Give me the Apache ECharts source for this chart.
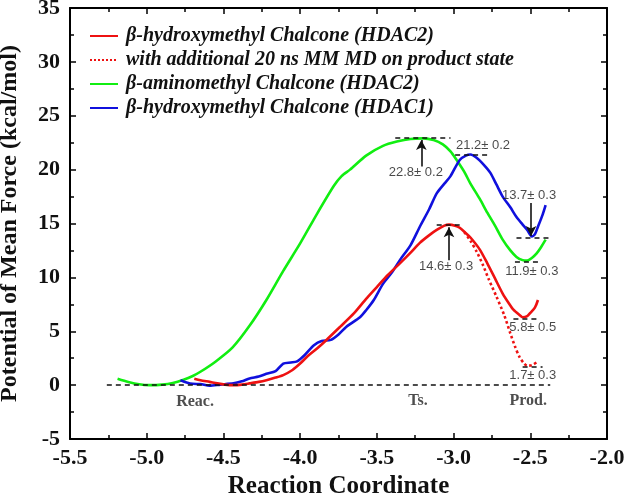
<!DOCTYPE html>
<html>
<head>
<meta charset="utf-8">
<script src="https://cdn.jsdelivr.net/npm/echarts@6/dist/echarts.min.js"></script>
<style>
html,body{margin:0;padding:0;background:#fff;}
#c{width:625px;height:494px;}
</style>
</head>
<body>
<div id="c"></div>
<script>
// ---- data ----
const seriesNames = [
  'β-hydroxymethyl Chalcone (HDAC2)',
  'with additional 20 ns MM MD on product state',
  'β-aminomethyl Chalcone (HDAC2)',
  'β-hydroxymethyl Chalcone (HDAC1)'
];

const greenX = [-5.19,-5.12,-5.05,-4.98,-4.90,-4.83,-4.76,-4.70,-4.65,-4.55,-4.44,-4.33,-4.22,-4.11,-4.00,-3.89,-3.78,-3.73,-3.675,-3.57,-3.46,-3.37,-3.28,-3.20,-3.13,-3.07,-3.02,-2.98,-2.93,-2.89,-2.83,-2.78,-2.73,-2.68,-2.63,-2.59,-2.55,-2.52,-2.49,-2.46,-2.43,-2.40];
const greenY = [0.6,0.3,0.08,0.0,0.05,0.2,0.5,0.85,1.24,2.2,3.5,5.5,7.9,10.6,13.15,15.9,18.5,19.4,20.0,21.3,22.2,22.6,22.85,22.9,22.75,22.35,21.7,20.9,19.8,18.7,17.3,16.0,14.8,13.5,12.5,11.9,11.6,11.55,11.8,12.2,12.8,13.5];

const blueX = [-4.78,-4.74,-4.70,-4.65,-4.59,-4.52,-4.435,-4.38,-4.33,-4.27,-4.22,-4.16,-4.11,-4.06,-4.02,-3.97,-3.91,-3.86,-3.80,-3.75,-3.70,-3.61,-3.57,-3.52,-3.46,-3.40,-3.35,-3.28,-3.22,-3.16,-3.11,-3.06,-3.02,-2.96,-2.92,-2.89,-2.85,-2.80,-2.76,-2.72,-2.68,-2.63,-2.59,-2.55,-2.52,-2.49,-2.47,-2.45,-2.42,-2.40];
const blueY = [0.46,0.25,0.12,0.1,-0.05,0.05,0.16,0.35,0.62,0.8,1.05,1.3,2.0,2.1,2.2,2.8,3.7,4.1,4.2,4.7,5.4,6.3,6.95,7.9,9.4,10.5,11.6,13.0,14.7,16.3,17.8,18.7,19.4,20.9,21.3,21.4,21.1,20.4,19.7,18.6,17.5,16.5,15.6,14.9,14.4,13.8,14.0,14.7,15.8,16.7];

const redX = [-4.69,-4.65,-4.59,-4.54,-4.49,-4.435,-4.38,-4.33,-4.27,-4.22,-4.16,-4.11,-4.05,-4.00,-3.95,-3.89,-3.83,-3.74,-3.65,-3.57,-3.50,-3.43,-3.35,-3.28,-3.22,-3.16,-3.11,-3.06,-3.03,-2.99,-2.96,-2.92,-2.89,-2.83,-2.78,-2.73,-2.68,-2.64,-2.61,-2.57,-2.55,-2.52,-2.50,-2.47,-2.45];
const redY = [0.6,0.46,0.3,0.16,0.05,0.0,0.05,0.16,0.3,0.46,0.7,0.93,1.4,2.0,2.7,3.4,4.17,5.4,6.65,8.0,9.1,10.2,11.3,12.3,13.2,13.9,14.4,14.8,14.9,14.8,14.6,14.1,13.7,12.6,11.3,9.9,8.5,7.6,7.0,6.5,6.3,6.4,6.7,7.2,7.9];

const dotX = [-2.93,-2.89,-2.85,-2.81,-2.77,-2.72,-2.67,-2.63,-2.60,-2.57,-2.54,-2.52,-2.49,-2.46];
const dotY = [14.2,13.4,12.4,11.2,9.8,8.2,6.5,4.8,3.6,2.6,2.0,1.8,1.85,2.1];

// dashed reference levels: [xStart, xEnd, y]
const refLevels = [
  [-5.26,-2.37,0],
  [-3.38,-3.02,23.0],
  [-2.99,-2.78,21.35],
  [-3.11,-2.94,14.9],
  [-2.59,-2.36,13.7],
  [-2.60,-2.44,11.45],
  [-2.61,-2.46,6.2],
  [-2.55,-2.42,1.7]
];
// arrows: [x, yFrom, yTo]
const arrows = [
  [-3.21,20.3,22.75],
  [-3.03,11.6,14.65],
  [-2.495,16.9,13.85]
];
// value labels: [text, x, y]
const valueLabels = [
  ['22.8± 0.2',-3.246,19.73],
  ['21.2± 0.2',-2.808,22.2],
  ['14.6± 0.3',-3.049,11.0],
  ['13.7± 0.3',-2.508,17.56],
  ['11.9± 0.3',-2.490,10.53],
  ['5.8± 0.5',-2.484,5.36],
  ['1.7± 0.3',-2.484,0.93]
];
// state labels: [text, x, y]
const stateLabels = [
  ['Reac.',-4.685,-1.58],
  ['Ts.',-3.232,-1.45],
  ['Prod.',-2.514,-1.45]
];
const xTicks = {min:-5.5,max:-2.0,interval:0.5};
const yTicks = {min:-5,max:35,interval:5};

// ---- chart ----
const zip = (xs, ys) => xs.map((x,i)=>[x, ys[i]]);
const serif = 'Liberation Serif, Times New Roman, serif';
const sans = 'Liberation Sans, Arial, sans-serif';

const chart = echarts.init(document.getElementById('c'), null, {renderer:'canvas'});

const axisCommon = {
  axisLine:{show:true, onZero:false, lineStyle:{color:'#000', width:2}},
  axisTick:{show:true, inside:true, length:6, lineStyle:{color:'#000', width:1.5}},
  minorTick:{show:true, splitNumber:2, length:4, lineStyle:{color:'#000', width:1.5}},
  splitLine:{show:false}
};

const option = {
  backgroundColor:'#fff',
  animation:false,
  grid:{left:70, right:18, top:8, bottom:55, containLabel:false, outerBoundsMode:'none'},
  legend:{
    data: seriesNames,
    orient:'vertical',
    left:84, top:21,
    itemWidth:28, itemHeight:14, itemGap:4,
    itemStyle:{opacity:0},
    textStyle:{fontFamily:serif, fontWeight:'bold', fontStyle:'italic', fontSize:20, color:'#111', padding:[0,0,0,3]}
  },
  xAxis:[
    Object.assign({}, axisCommon, {
      type:'value', position:'bottom', min:xTicks.min, max:xTicks.max, interval:xTicks.interval,
      name:'Reaction Coordinate', nameLocation:'middle', nameGap:25,
      nameTextStyle:{fontFamily:serif, fontWeight:'bold', fontSize:25, color:'#111'},
      axisLabel:{fontFamily:serif, fontWeight:'bold', fontSize:22, color:'#111', margin:8,
        formatter:v=>v.toFixed(1)}
    }),
    Object.assign({}, axisCommon, {
      type:'value', position:'top', min:xTicks.min, max:xTicks.max, interval:xTicks.interval,
      axisLabel:{show:false}
    })
  ],
  yAxis:[
    Object.assign({}, axisCommon, {
      type:'value', position:'left', min:yTicks.min, max:yTicks.max, interval:yTicks.interval,
      name:'Potential of Mean Force (kcal/mol)', nameLocation:'middle', nameGap:48, nameRotate:90,
      nameTextStyle:{fontFamily:serif, fontWeight:'bold', fontSize:24, color:'#111'},
      axisLabel:{fontFamily:serif, fontWeight:'bold', fontSize:22, color:'#111', margin:10,
        formatter:v=>String(v)}
    }),
    Object.assign({}, axisCommon, {
      type:'value', position:'right', min:yTicks.min, max:yTicks.max, interval:yTicks.interval,
      axisLabel:{show:false}
    })
  ],
  series:[
    {
      name:seriesNames[0], type:'line', data:zip(redX, redY), showSymbol:false, symbol:'none',
      smooth:0.25, lineStyle:{color:'#ee1111', width:2.6}, itemStyle:{color:'#ee1111'}, z:4
    },
    {
      name:seriesNames[1], type:'line', data:zip(dotX, dotY), showSymbol:false, symbol:'none',
      smooth:0.25, lineStyle:{color:'#ee1111', width:2.6, type:'dotted'}, itemStyle:{color:'#ee1111'}, z:4
    },
    {
      name:seriesNames[2], type:'line', data:zip(greenX, greenY), showSymbol:false, symbol:'none',
      smooth:0.25, lineStyle:{color:'#11ee11', width:2.6}, itemStyle:{color:'#11ee11'}, z:3
    },
    {
      name:seriesNames[3], type:'line', data:zip(blueX, blueY), showSymbol:false, symbol:'none',
      smooth:0.25, lineStyle:{color:'#1010dd', width:2.6}, itemStyle:{color:'#1010dd'}, z:3
    },
    {
      name:'levels', type:'line', data:[], silent:true, z:5,
      markLine:{
        silent:true, symbol:['none','none'], label:{show:false}, animation:false,
        lineStyle:{color:'#111', width:1.6, type:[5,4]},
        data: refLevels.map(r=>[{coord:[r[0], r[2]]},{coord:[r[1], r[2]]}])
      }
    },
    {
      name:'arrows', type:'line', data:[], silent:true, z:5,
      markLine:{
        silent:true, symbol:['none','arrow'], symbolSize:[8,10], label:{show:false}, animation:false,
        lineStyle:{color:'#111', width:1.6, type:'solid'},
        data: arrows.map(a=>[{coord:[a[0], a[1]]},{coord:[a[0], a[2]]}])
      }
    },
    {
      name:'values', type:'scatter', symbolSize:0, silent:true, z:6,
      data: valueLabels.map(v=>({name:v[0], value:[v[1], v[2]]})),
      label:{show:true, position:[0,0], align:'center', verticalAlign:'middle',
        formatter:p=>p.name, fontFamily:sans, fontSize:13, color:'#1a1a1a'}
    },
    {
      name:'states', type:'scatter', symbolSize:0, silent:true, z:6,
      data: stateLabels.map(v=>({name:v[0], value:[v[1], v[2]]})),
      label:{show:true, position:[0,0], align:'center', verticalAlign:'middle',
        formatter:p=>p.name, fontFamily:serif, fontWeight:'bold', fontSize:16, color:'#222'}
    }
  ]
};
chart.setOption(option);
</script>
</body>
</html>
